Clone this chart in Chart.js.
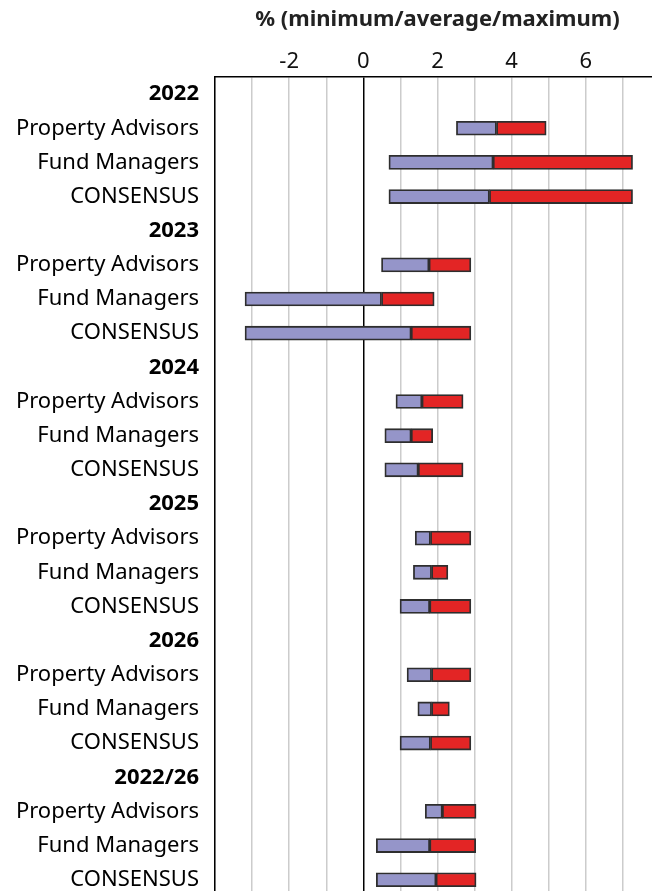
<!DOCTYPE html>
<html lang="en">
<head>
  <meta charset="UTF-8">
  <title>Min / average / max forecasts</title>
  <script src="https://cdn.jsdelivr.net/npm/chart.js"></script>
  <style>
    html, body { margin: 0; padding: 0; background: #fff; overflow: hidden; }
    #wrap { position: absolute; left: 0; top: 0; width: 662px; height: 926px; }
  </style>
</head>
<body>
  <div id="wrap"><canvas id="chart" width="662" height="926"></canvas></div>

  <script>
    // rows: year headers have no bars
    const categories = [
      '2022', 'Property Advisors', 'Fund Managers', 'CONSENSUS',
      '2023', 'Property Advisors', 'Fund Managers', 'CONSENSUS',
      '2024', 'Property Advisors', 'Fund Managers', 'CONSENSUS',
      '2025', 'Property Advisors', 'Fund Managers', 'CONSENSUS',
      '2026', 'Property Advisors', 'Fund Managers', 'CONSENSUS',
      '2022/26', 'Property Advisors', 'Fund Managers', 'CONSENSUS'
    ];
    const headerRows = ['2022', '2023', '2024', '2025', '2026', '2022/26'];

    // % values
    const minVals = [
      null, 2.51, 0.69, 0.69,
      null, 0.49, -3.19, -3.19,
      null, 0.88, 0.58, 0.58,
      null, 1.40, 1.35, 0.99,
      null, 1.18, 1.47, 0.99,
      null, 1.67, 0.35, 0.35
    ];
    const avgVals = [
      null, 3.59, 3.50, 3.40,
      null, 1.77, 0.49, 1.29,
      null, 1.58, 1.29, 1.48,
      null, 1.81, 1.84, 1.79,
      null, 1.84, 1.84, 1.81,
      null, 2.13, 1.79, 1.96
    ];
    const maxVals = [
      null, 4.93, 7.26, 7.26,
      null, 2.90, 1.91, 2.90,
      null, 2.69, 1.87, 2.69,
      null, 2.90, 2.28, 2.90,
      null, 2.90, 2.32, 2.90,
      null, 3.04, 3.03, 3.04
    ];
    const xTickLabels = [-2, 0, 2, 4, 6];

    const lowerPart = minVals.map((v, i) => v === null ? null : [v, avgVals[i]]);
    const upperPart = maxVals.map((v, i) => v === null ? null : [avgVals[i], v]);

    const FONT = "'Noto Sans', 'Open Sans', sans-serif";

    new Chart(document.getElementById('chart'), {
      type: 'bar',
      data: {
        labels: categories,
        datasets: [
          {
            label: 'minimum to average',
            data: lowerPart,
            backgroundColor: '#9595c9',
            borderColor: '#2e2e2e',
            borderWidth: 1.8,
            borderSkipped: false,
            barThickness: 14,
            grouped: false
          },
          {
            label: 'average to maximum',
            data: upperPart,
            backgroundColor: '#e32525',
            borderColor: '#2e2e2e',
            borderWidth: 1.8,
            borderSkipped: false,
            barThickness: 14,
            grouped: false
          }
        ]
      },
      options: {
        indexAxis: 'y',
        responsive: false,
        animation: false,
        layout: { padding: 0 },
        plugins: {
          legend: { display: false },
          tooltip: { enabled: false }
        },
        scales: {
          x: {
            position: 'top',
            min: -4,
            max: 8,
            afterFit: (s) => { s.height = 77; },
            title: {
              display: true,
              text: '% (minimum/average/maximum)',
              color: '#222',
              font: { family: FONT, size: 22, weight: 'bold' },
              padding: { top: 7, bottom: 0 }
            },
            ticks: {
              stepSize: 1,
              autoSkip: false,
              maxRotation: 0,
              padding: 2,
              color: '#111',
              font: { family: FONT, size: 22 },
              callback: (v) => xTickLabels.includes(v) ? String(v) : ''
            },
            grid: {
              drawTicks: false,
              color: (c) => c.tick && c.tick.value === 0 ? '#000' : '#cccccc',
              lineWidth: 1.5
            },
            border: { display: true, color: '#000', width: 1.5 }
          },
          y: {
            afterFit: (s) => { s.width = 215; },
            ticks: {
              autoSkip: false,
              padding: 16,
              color: '#000',
              font: (c) => ({
                family: FONT,
                size: 22,
                weight: headerRows.includes(categories[c.index]) && c.index % 4 === 0 ? 'bold' : 'normal'
              })
            },
            grid: { display: false, drawTicks: false },
            border: { display: true, color: '#000', width: 1.5 }
          }
        }
      }
    });
  </script>
</body>
</html>
